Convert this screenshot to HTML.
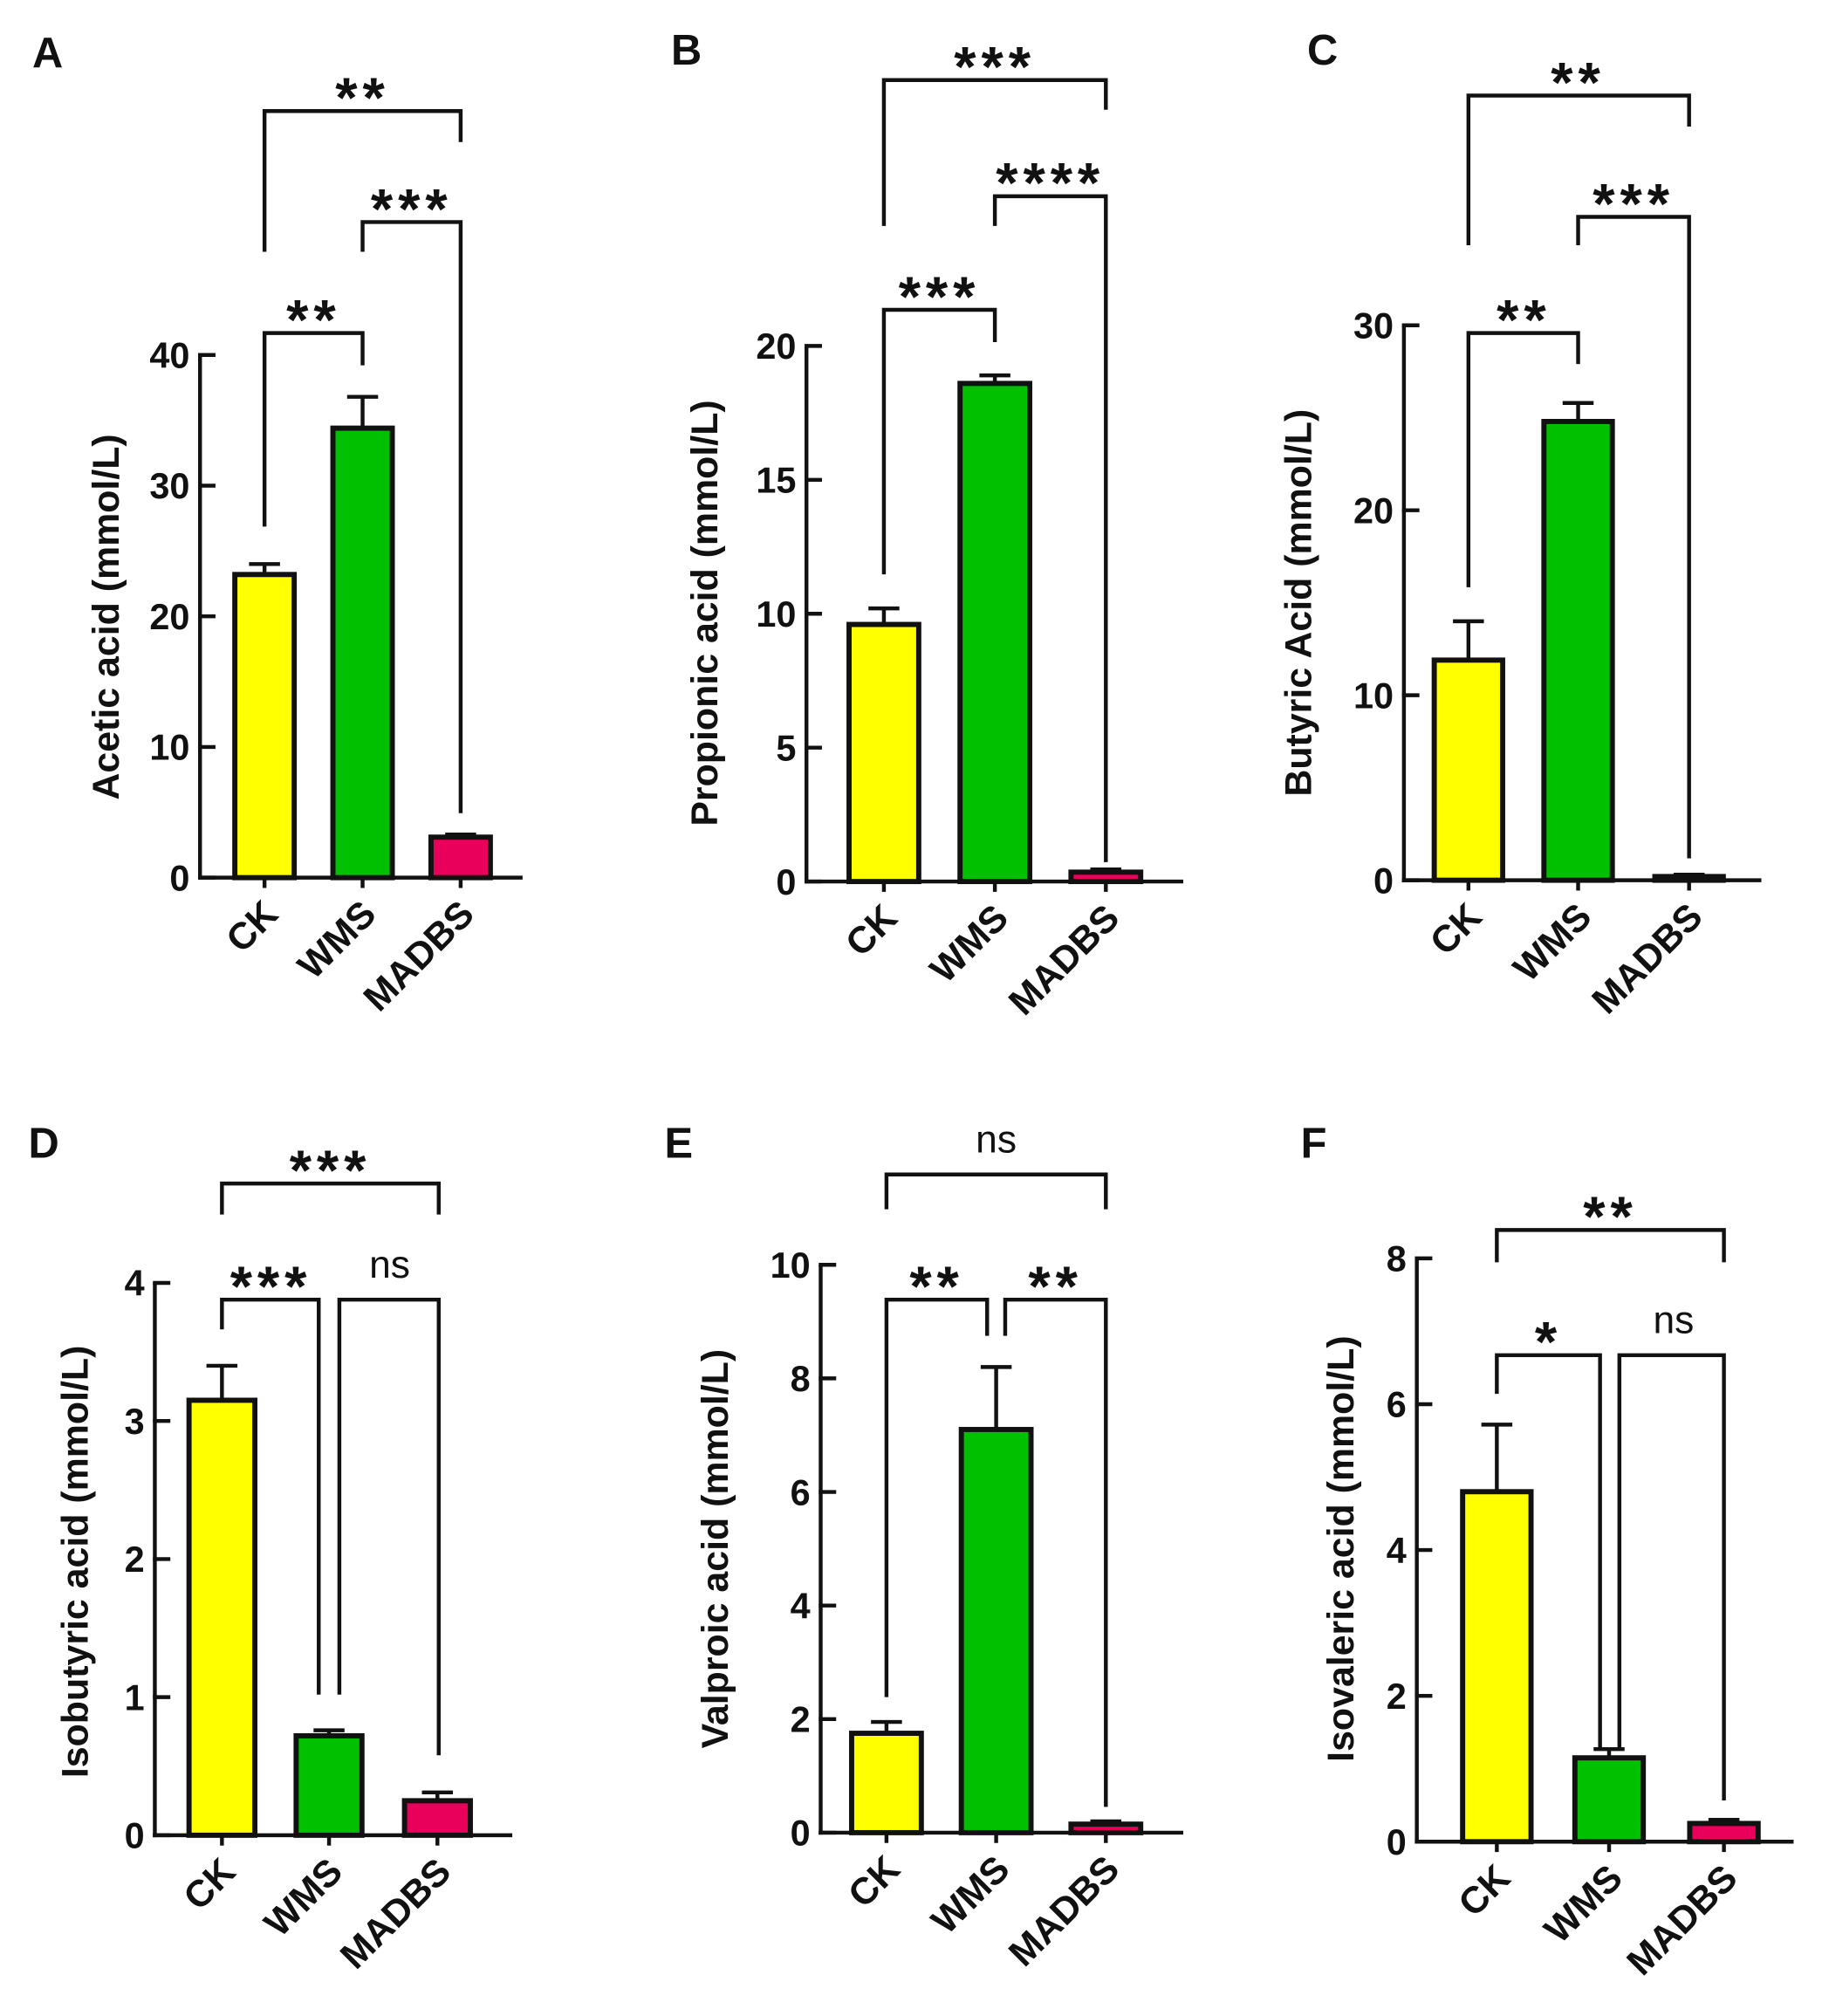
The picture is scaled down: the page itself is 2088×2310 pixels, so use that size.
<!DOCTYPE html>
<html><head><meta charset="utf-8"><style>
html,body{margin:0;padding:0;background:#fff}
svg{display:block}
text{font-family:"Liberation Sans",Arial,sans-serif;fill:#111}
</style></head><body>
<svg id="fig" width="2088" height="2310" viewBox="0 0 1412 1562" xmlns="http://www.w3.org/2000/svg"></svg>
<script>
const categories = ["CK","WMS","MADBS"];
const colors = ["#ffff00","#00c000","#e8005a"];
const valuesA = [23.2, 34.4, 3.1];
const errorsA = [24.0, 36.8, 3.3];
const valuesB = [9.6, 18.6, 0.35];
const errorsB = [10.2, 18.9, 0.45];
const valuesC = [11.9, 24.8, 0.2];
const errorsC = [14.0, 25.8, 0.3];
const valuesD = [3.15, 0.72, 0.25];
const errorsD = [3.4, 0.76, 0.31];
const valuesE = [1.75, 7.1, 0.15];
const errorsE = [1.95, 8.2, 0.2];
const valuesF = [4.8, 1.15, 0.25];
const errorsF = [5.72, 1.27, 0.3];
const ticksA = [0,10,20,30,40];
const ticksB = [0,5,10,15,20];
const ticksC = [0,10,20,30];
const ticksD = [0,1,2,3,4];
const ticksE = [0,2,4,6,8,10];
const ticksF = [0,2,4,6,8];

const NS="http://www.w3.org/2000/svg";
const svg=document.getElementById('fig');
function mk(tag,attrs,parent){const e=document.createElementNS(NS,tag);for(const k in attrs)e.setAttribute(k,attrs[k]);(parent||svg).appendChild(e);return e;}

const panels=[
 {id:'a',letter:'A',lx:25,ly:52,ax:155,y0:680,yTop:275,max:40,xEnd:405,cx:[205,281,357],bw:46,vals:valuesA,errs:errorsA,ticks:ticksA,title:'Acetic acid (mmol/L)',tx:92,ty:478,
  br:[{x1:205,x2:281,y:258,b1:408,b2:283,lab:'**',lx:243,ly:248},{x1:281,x2:357,y:172,b1:195,b2:630,lab:'***',lx:319,ly:162},{x1:205,x2:357,y:86,b1:195,b2:110,lab:'**',lx:281,ly:76}]},
 {id:'b',letter:'B',lx:520,ly:50,ax:625,y0:683,yTop:268,max:20,xEnd:917,cx:[685,771,857],bw:54,vals:valuesB,errs:errorsB,ticks:ticksB,title:'Propionic acid (mmol/L)',tx:556,ty:475,
  br:[{x1:685,x2:771,y:240,b1:445,b2:265,lab:'***',lx:728,ly:230},{x1:771,x2:857,y:152,b1:175,b2:668,lab:'****',lx:814,ly:142},{x1:685,x2:857,y:62,b1:175,b2:85,lab:'***',lx:771,ly:52}]},
 {id:'c',letter:'C',lx:1013,ly:50,ax:1088,y0:682,yTop:252,max:30,xEnd:1365,cx:[1138,1223,1309],bw:53,vals:valuesC,errs:errorsC,ticks:ticksC,title:'Butyric Acid (mmol/L)',tx:1016,ty:467,
  br:[{x1:1138,x2:1223,y:258,b1:455,b2:282,lab:'**',lx:1181,ly:248},{x1:1223,x2:1309,y:168,b1:190,b2:665,lab:'***',lx:1266,ly:158},{x1:1138,x2:1309,y:74,b1:190,b2:98,lab:'**',lx:1223,ly:64}]},
 {id:'d',letter:'D',lx:22,ly:897,ax:120,y0:1422,yTop:994,max:4,xEnd:397,cx:[172,255,339],bw:51,vals:valuesD,errs:errorsD,ticks:ticksD,title:'Isobutyric acid (mmol/L)',tx:68,ty:1210,
  br:[{x1:172,x2:247,y:1007,b1:1030,b2:1313,lab:'***',lx:210,ly:997},{x1:263,x2:340,y:1007,b1:1313,b2:1360,lab:'ns',lx:302,ly:988,ns:1},{x1:172,x2:340,y:917,b1:941,b2:941,lab:'***',lx:256,ly:907}]},
 {id:'e',letter:'E',lx:515,ly:897,ax:636,y0:1420,yTop:980,max:10,xEnd:917,cx:[687,772,857],bw:54,vals:valuesE,errs:errorsE,ticks:ticksE,title:'Valproic acid (mmol/L)',tx:564,ty:1200,
  br:[{x1:687,x2:765,y:1007,b1:1315,b2:1035,lab:'**',lx:726,ly:997},{x1:779,x2:857,y:1007,b1:1035,b2:1400,lab:'**',lx:818,ly:997},{x1:687,x2:857,y:910,b1:937,b2:937,lab:'ns',lx:772,ly:891,ns:1}]},
 {id:'f',letter:'F',lx:1008,ly:897,ax:1098,y0:1427,yTop:975,max:8,xEnd:1390,cx:[1160,1247,1336],bw:53,vals:valuesF,errs:errorsF,ticks:ticksF,title:'Isovaleric acid (mmol/L)',tx:1049,ty:1200,
  br:[{x1:1160,x2:1240,y:1050,b1:1080,b2:1355,lab:'*',lx:1200,ly:1040},{x1:1255,x2:1336,y:1050,b1:1355,b2:1395,lab:'ns',lx:1297,ly:1031,ns:1},{x1:1160,x2:1336,y:953,b1:978,b2:978,lab:'**',lx:1248,ly:943}]}
];

panels.forEach(p=>{
  const g=mk('g',{});
  
  
  const yS=v=>p.y0-(v/p.max)*(p.y0-p.yTop);
  const L=mk('text',{x:p.lx,y:p.ly,'font-size':33,'font-weight':'bold'},g);L.textContent=p.letter;
  
  
  p.vals.forEach((v,i)=>{
    const y=yS(v), ye=yS(p.errs[i]);
    const el=mk('line',{x1:p.cx[i],x2:p.cx[i],y1:y,y2:ye,stroke:'#111','stroke-width':3},g);
    
    
    const cap=mk('line',{x1:p.cx[i]-12,x2:p.cx[i]+12,y1:ye,y2:ye,stroke:'#111','stroke-width':3},g);
    
    
    const r=mk('rect',{x:p.cx[i]-p.bw/2,y:y,width:p.bw,height:Math.max(p.y0-y,1),fill:colors[i],stroke:'#111','stroke-width':4},g);
    
    
  });
  const ya=mk('line',{x1:p.ax,x2:p.ax,y1:p.yTop,y2:p.y0+1.5,stroke:'#111','stroke-width':3},g);
  
  
  const xa=mk('line',{x1:p.ax-1.5,x2:p.xEnd,y1:p.y0,y2:p.y0,stroke:'#111','stroke-width':3},g);
  
  
  p.ticks.forEach(t=>{
    const y=yS(t);
    mk('line',{x1:p.ax-1.5,x2:p.ax+12,y1:y,y2:y,stroke:'#111','stroke-width':3},g);
    const tl=mk('text',{x:p.ax-8,y:y+10,'font-size':28,'font-weight':'bold','text-anchor':'end'},g);
    tl.textContent=t;
    
    
  });
  const tt=mk('text',{x:0,y:0,'font-size':29,'font-weight':'bold','text-anchor':'middle',transform:`translate(${p.tx},${p.ty}) rotate(-90)`},g);
  tt.textContent=p.title;
  
  
  categories.forEach((c,i)=>{
    mk('line',{x1:p.cx[i],x2:p.cx[i],y1:p.y0,y2:p.y0+8,stroke:'#111','stroke-width':3},g);
    const xl=mk('text',{x:0,y:0,'font-size':29,'font-weight':'bold','text-anchor':'end',transform:`translate(${p.cx[i]+12},${p.y0+30}) rotate(-45)`},g);
    xl.textContent=c;
    
    
  });
  p.br.forEach((b,k)=>{
    const pl=mk('polyline',{points:`${b.x1},${b.b1} ${b.x1},${b.y} ${b.x2},${b.y} ${b.x2},${b.b2}`,fill:'none',stroke:'#111','stroke-width':3},g);
    
    
    const st=mk('text',{x:b.lx,y:b.ns?b.ly+2:b.ly+15,'font-size':b.ns?30:44,'font-weight':b.ns?'normal':'bold','text-anchor':'middle','letter-spacing':b.ns?0:4},g);
    st.textContent=b.lab;
    
    
  });
});
</script>
</body></html>
